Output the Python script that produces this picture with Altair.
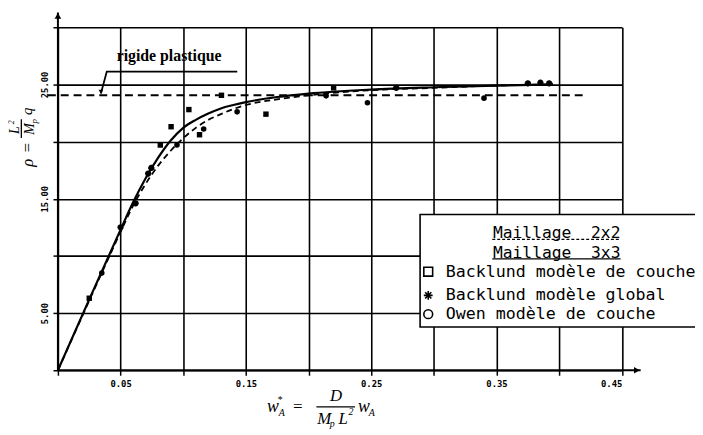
import altair as alt
import pandas as pd

# ---------------- data ----------------
# Maillage 3x3 (solid curve)
w_3x3 = [0, 0.025, 0.05, 0.06, 0.07, 0.08, 0.09, 0.10, 0.11, 0.12, 0.13, 0.14, 0.15, 0.175, 0.2, 0.25, 0.30, 0.35, 0.395]
rho_3x3 = [0, 6.2, 12.3, 14.7, 16.8, 18.6, 20.1, 21.2, 21.9, 22.45, 22.9, 23.2, 23.45, 23.9, 24.2, 24.55, 24.75, 24.9, 25.0]
# Maillage 2x2 (dashed curve)
w_2x2 = [0, 0.025, 0.05, 0.06, 0.07, 0.08, 0.09, 0.10, 0.11, 0.12, 0.13, 0.14, 0.15, 0.175, 0.2, 0.25, 0.30, 0.35, 0.395]
rho_2x2 = [0, 6.1, 12.1, 14.4, 16.3, 17.9, 19.2, 20.3, 21.2, 21.9, 22.4, 22.85, 23.2, 23.7, 24.05, 24.5, 24.7, 24.9, 25.0]

# markers
bc_w = [0.025, 0.0817, 0.0903, 0.1045, 0.113, 0.1305, 0.166, 0.22]
bc_rho = [6.3, 19.7, 21.3, 22.8, 20.6, 24.05, 22.4, 24.7]
ow_w = [0.035, 0.095, 0.1163, 0.143, 0.214, 0.247, 0.34]
ow_rho = [8.5, 19.7, 21.1, 22.6, 24.0, 23.4, 23.8]
bg_w = [0.05, 0.062, 0.072, 0.0745, 0.27, 0.375, 0.385, 0.392]
bg_rho = [12.5, 14.6, 17.2, 17.7, 24.7, 25.1, 25.15, 25.1]

# rigide plastique level
rp_w = [-0.008, 0.4207]
rp_rho = [24.05, 24.05]
rp_label = "rigide plastique"
leader_w = [0.1431, 0.039, 0.0343]
leader_rho = [26.12, 26.12, 24.2]

x_ticks = [round(0.05 * i, 2) for i in range(0, 10)]
y_ticks = [5 * i for i in range(0, 7)]

NB = "\u00a0"
legend_rows = ["Maillage" + NB + NB + "2x2", "Maillage" + NB + NB + "3x3", "Backlund modèle de couche",
               "Backlund modèle global", "Owen modèle de couche"]

# ---------------- scales ----------------
W, H = 570.5, 347
xs = alt.Scale(domain=[0, 0.45], nice=False, zero=False)
ys = alt.Scale(domain=[0, 30], nice=False, zero=False)

def X(f="x"):
    return alt.X(f"{f}:Q", scale=xs)

def Y(f="y"):
    return alt.Y(f"{f}:Q", scale=ys)

axis_x = alt.Axis(values=x_ticks, grid=True, gridColor="black", gridWidth=1.6, gridOpacity=1,
                  domain=False, ticks=True, tickColor="black", tickWidth=1.5, tickSize=5,
                  labelExpr="(round(datum.value*100) % 10 == 5) ? format(datum.value, '.2f') : ''",
                  labelFont="DejaVu Sans Mono", labelFontSize=9, labelFontWeight="bold",
                  labelColor="black", labelPadding=4, title=None)
axis_y = alt.Axis(values=y_ticks, grid=True, gridColor="black", gridWidth=1.6, gridOpacity=1,
                  domain=False, ticks=True, tickColor="black", tickWidth=1.5, tickSize=5,
                  labelExpr="(datum.value % 10 == 5) ? format(datum.value, '.2f') : ''",
                  labelFont="DejaVu Sans Mono", labelFontSize=9, labelFontWeight="bold",
                  labelColor="black", labelAngle=270, labelPadding=4, title=None)

grid_df = pd.DataFrame({"x": [0.0, 0.45], "y": [0.0, 30.0]})
base = alt.Chart(grid_df).mark_point(opacity=0).encode(
    x=alt.X("x:Q", scale=xs, axis=axis_x), y=alt.Y("y:Q", scale=ys, axis=axis_y))

# axis lines with arrows
axes_df = pd.DataFrame({"x": [0, 0], "y": [0, 0], "x2": [0.465, 0], "y2": [0, 31.3]})
axes_lines = alt.Chart(axes_df).mark_rule(color="black", strokeWidth=2).encode(
    x=X(), y=Y(), x2="x2:Q", y2="y2:Q")
arr_df = pd.DataFrame({"x": [0.462, 0], "y": [0, 31.0], "shape": ["triangle-right", "triangle-up"]})
arrows = alt.Chart(arr_df).mark_point(filled=True, color="black", size=45, opacity=1).encode(
    x=X(), y=Y(), shape=alt.Shape("shape:N", scale=None))

# curves
c3 = pd.DataFrame({"x": w_3x3, "y": rho_3x3})
c2 = pd.DataFrame({"x": w_2x2, "y": rho_2x2})
line3 = alt.Chart(c3).mark_line(color="black", strokeWidth=2.2, interpolate="monotone").encode(x=X(), y=Y())
line2 = alt.Chart(c2).mark_line(color="black", strokeWidth=1.8, strokeDash=[6, 4],
                                interpolate="monotone").encode(x=X(), y=Y())

rp_df = pd.DataFrame({"x": rp_w, "y": rp_rho})
rp_line = alt.Chart(rp_df).mark_line(color="black", strokeWidth=2, strokeDash=[8, 5]).encode(x=X(), y=Y())
ld_df = pd.DataFrame({"x": leader_w, "y": leader_rho, "o": [0, 1, 2]})
leader = alt.Chart(ld_df).mark_line(color="black", strokeWidth=1.8).encode(x=X(), y=Y(), order="o:Q")
ld_arrow = alt.Chart(pd.DataFrame({"x": [leader_w[-1]], "y": [24.35]})).mark_point(
    shape="triangle-down", filled=True, color="black", size=22, opacity=1).encode(x=X(), y=Y())
rp_text = alt.Chart(pd.DataFrame({"x": [0.0887], "y": [27.45], "t": [rp_label]})).mark_text(
    font="Liberation Serif", fontSize=16, fontWeight="bold", color="black", baseline="middle").encode(
    x=X(), y=Y(), text="t:N")

# markers
star_path = "M-1,0L1,0M0,-1L0,1M-0.7,-0.7L0.7,0.7M-0.7,0.7L0.7,-0.7"
bc = alt.Chart(pd.DataFrame({"x": bc_w, "y": bc_rho})).mark_point(
    shape="square", filled=True, color="black", size=30, opacity=1).encode(x=X(), y=Y())
ow = alt.Chart(pd.DataFrame({"x": ow_w, "y": ow_rho})).mark_point(
    shape="circle", filled=True, color="black", size=32, opacity=1).encode(x=X(), y=Y())
bg = alt.Chart(pd.DataFrame({"x": bg_w, "y": bg_rho})).mark_point(
    shape=star_path, filled=False, color="black", size=40, strokeWidth=2, opacity=1).encode(x=X(), y=Y())

# legend box (data coordinates)
lg_box = alt.Chart(pd.DataFrame({"x": [0.289], "x2": [0.52], "y": [13.62], "y2": [3.79]})).mark_rect(
    fill="white", stroke="black", strokeWidth=1.6).encode(x=X(), x2="x2:Q", y=Y(), y2="y2:Q")
lg_rows_y = [11.98, 10.26, 8.62, 6.55, 4.91]
lg_head = alt.Chart(pd.DataFrame({"x": [0.398, 0.398], "y": lg_rows_y[:2], "t": legend_rows[:2]})).mark_text(
    font="DejaVu Sans Mono", fontSize=16.5, color="black", baseline="middle", align="center").encode(
    x=X(), y=Y(), text="t:N")
lg_body = alt.Chart(pd.DataFrame({"x": [0.3095] * 3, "y": lg_rows_y[2:], "t": legend_rows[2:]})).mark_text(
    font="DejaVu Sans Mono", fontSize=16.8, color="black", baseline="middle", align="left").encode(
    x=X(), y=Y(), text="t:N")
ul_dash = alt.Chart(pd.DataFrame({"x": [0.3466], "x2": [0.449], "y": [11.45]})).mark_rule(
    color="black", strokeWidth=1.2, strokeDash=[3, 2]).encode(x=X(), x2="x2:Q", y=Y())
ul_solid = alt.Chart(pd.DataFrame({"x": [0.3466], "x2": [0.449], "y": [9.75]})).mark_rule(
    color="black", strokeWidth=1.2).encode(x=X(), x2="x2:Q", y=Y())
lg_sym_df = pd.DataFrame({"x": [0.2955] * 3, "y": lg_rows_y[2:],
                          "shape": ["square", star_path, "circle"]})
lg_sym = alt.Chart(lg_sym_df).mark_point(filled=False, color="black", size=80, strokeWidth=1.6, opacity=1).encode(
    x=X(), y=Y(), shape=alt.Shape("shape:N", scale=None))

# axis titles built from text pieces (pixel positions in the plot area)
ox, oy = 58.5, 25
title_pieces = [
    # text, page x, page y, size, angle
    ("w", 276, 409, 18, 0), ("*", 283, 402, 10, 0), ("A", 285, 415, 10, 0),
    ("=", 301, 409, 17, 0), ("D", 340, 398, 17, 0),
    ("M", 328, 421, 17, 0), ("p", 336, 426, 10, 0), ("L", 347, 421, 17, 0), ("2", 355, 414, 10, 0),
    ("w", 368, 409, 18, 0), ("A", 376, 415, 10, 0),
    ("ρ", 28, 162, 17, 270), ("=", 28, 147, 17, 270),
    ("L", 15, 129, 14, 270), ("2", 12, 121, 8, 270),
    ("M", 30, 128, 14, 270), ("p", 34, 120, 9, 270), ("q", 27, 110, 15, 270),
]
tp = pd.DataFrame([{"t": t, "px": px - ox, "py": py - oy, "s": s, "a": a}
                   for t, px, py, s, a in title_pieces])
titles = alt.Chart(tp).mark_text(font="Liberation Serif", fontStyle="italic", color="black",
                                 baseline="middle", align="center").encode(
    x=alt.X("px:Q", scale=None), y=alt.Y("py:Q", scale=None), text="t:N",
    size=alt.Size("s:Q", scale=None), angle=alt.Angle("a:Q", scale=None))
bars_df = pd.DataFrame({"px": [320 - ox, 21.5 - ox], "px2": [359 - ox, 21.5 - ox],
                        "py": [409 - oy, 118 - oy], "py2": [409 - oy, 137 - oy]})
frac_bars = alt.Chart(bars_df).mark_rule(color="black", strokeWidth=1.3).encode(
    x=alt.X("px:Q", scale=None), x2="px2:Q", y=alt.Y("py:Q", scale=None), y2="py2:Q")

chart = alt.layer(
    base, rp_line, line2, line3, bc, ow, bg, axes_lines, arrows, leader, ld_arrow, rp_text,
    lg_box, lg_head, lg_body, ul_dash, ul_solid, lg_sym, titles, frac_bars
).properties(
    width=W, height=H,
    autosize=alt.AutoSizeParams(type="none"),
    padding={"left": 50.5, "top": 17, "right": 74, "bottom": 63},
).configure_view(stroke=None).configure(background="white")

chart.save("out.html", embed_options={"renderer": "svg", "actions": False})
